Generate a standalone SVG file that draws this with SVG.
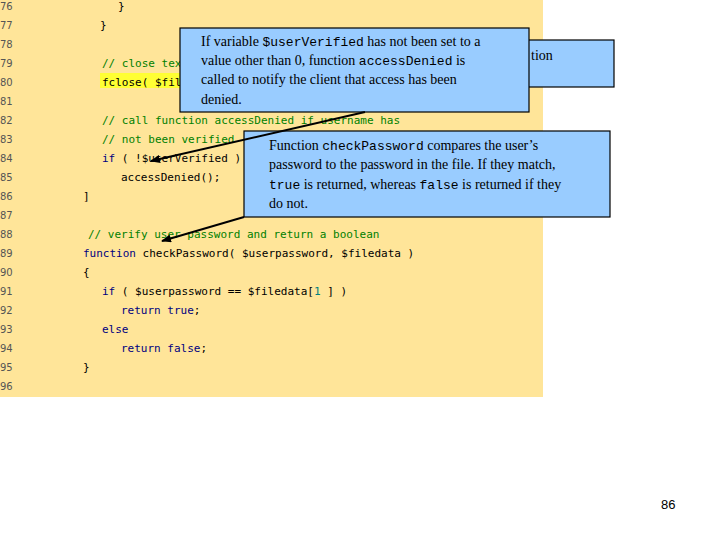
<svg xmlns="http://www.w3.org/2000/svg" width="720" height="540" viewBox="0 0 720 540">
<style>
.ln{font-family:"DejaVu Sans",sans-serif;font-size:10px;fill:#555}
.c{font-family:"DejaVu Sans Mono","Liberation Mono",monospace;font-size:11px;fill:#000}
.cm{fill:#008000}.kw{fill:#000080}.num{fill:#008080}
.box{fill:#99ccff;stroke:#000;stroke-width:1.2}
.t{font-family:"Liberation Serif",serif;font-size:14px;fill:#000}
.m{font-family:"Liberation Mono",monospace;font-size:13px}
.ar{stroke:#000;stroke-width:2;fill:none;marker-end:url(#ah)}
</style>
<defs><marker id="ah" markerWidth="10" markerHeight="8" refX="9" refY="4" orient="auto" markerUnits="userSpaceOnUse"><path d="M0,0L10,4L0,8z" fill="#000"/></marker></defs>
<rect width="720" height="540" fill="#fff"/>
<g id="code">
<rect x="0" y="0" width="543" height="397" fill="#ffe599"/>
<rect x="100" y="73" width="80" height="15" fill="#ffff33"/>
<g class="ln">
<text x="0" y="10">76</text><text x="0" y="29">77</text><text x="0" y="48">78</text><text x="0" y="67">79</text><text x="0" y="86">80</text><text x="0" y="105">81</text><text x="0" y="124">82</text><text x="0" y="143">83</text><text x="0" y="162">84</text><text x="0" y="181">85</text><text x="0" y="200">86</text><text x="0" y="219">87</text><text x="0" y="238">88</text><text x="0" y="257">89</text><text x="0" y="276">90</text><text x="0" y="295">91</text><text x="0" y="314">92</text><text x="0" y="333">93</text><text x="0" y="352">94</text><text x="0" y="371">95</text><text x="0" y="390">96</text>
</g>
<g class="c">
<text x="118" y="10">}</text>
<text x="100" y="29">}</text>
<text x="102" y="67" class="cm">// close text</text>
<text x="102" y="86">fclose( $file</text>
<text x="102" y="124" class="cm">// call function accessDenied if username has</text>
<text x="102" y="143" class="cm">// not been verified</text>
<text x="102" y="162"><tspan class="kw">if</tspan> ( !$userVerified )</text>
<text x="121" y="181">accessDenied();</text>
<text x="83" y="200">]</text>
<text x="88" y="238" class="cm">// verify user password and return a boolean</text>
<text x="83" y="257"><tspan class="kw">function</tspan> checkPassword( $userpassword, $filedata )</text>
<text x="83" y="276">{</text>
<text x="102" y="295"><tspan class="kw">if</tspan> ( $userpassword == $filedata[<tspan class="num">1</tspan> ] )</text>
<text x="121" y="314"><tspan class="kw">return true</tspan>;</text>
<text x="102" y="333" class="kw">else</text>
<text x="121" y="352"><tspan class="kw">return false</tspan>;</text>
<text x="83" y="371">}</text>
</g>
</g>
<g id="note0">
<rect class="box" x="380" y="40" width="234" height="47"/>
<text class="t" x="531" y="60">tion</text>
</g>
<g id="note1">
<rect class="box" x="180" y="28" width="349" height="84"/>
<text class="t" x="201" y="46">If variable <tspan class="m">$userVerified</tspan> has not been set to a</text>
<text class="t" x="201" y="65">value other than 0, function <tspan class="m">accessDenied</tspan> is</text>
<text class="t" x="201" y="84">called to notify the client that access has been</text>
<text class="t" x="201" y="104">denied.</text>
</g>
<g id="note2">
<rect class="box" x="244" y="131" width="366" height="86"/>
<text class="t" x="269" y="150">Function <tspan class="m">checkPassword</tspan> compares the user’s</text>
<text class="t" x="269" y="169">password to the password in the file. If they match,</text>
<text class="t" x="269" y="189"><tspan class="m">true</tspan> is returned, whereas <tspan class="m">false</tspan> is returned if they</text>
<text class="t" x="269" y="208">do not.</text>
</g>
<g id="connectors">
<line class="ar" x1="365" y1="112" x2="151" y2="161"/>
<line class="ar" x1="244" y1="217" x2="162" y2="241"/>
</g>
<text x="661" y="509" font-family="Liberation Sans,sans-serif" font-size="13">86</text>
</svg>
